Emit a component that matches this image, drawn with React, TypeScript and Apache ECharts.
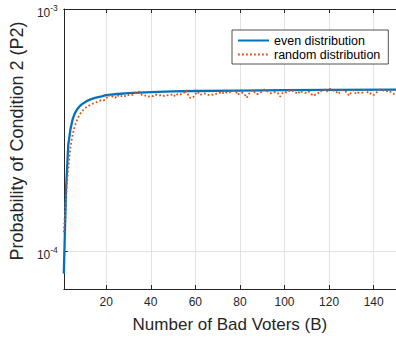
import React, { useEffect, useRef } from "react";
import * as echarts from "echarts";

const FONT = "'Liberation Sans', Arial, Helvetica, sans-serif";
const DARK = "#262626";

const xTicks = [20, 40, 60, 80, 100, 120, 140];
const minorGridY = [8e-5, 9e-5, 2e-4, 3e-4, 4e-4, 5e-4, 6e-4, 7e-4, 8e-4, 9e-4];

// even distribution (x, P2)
const evenX = [1, 2, 3, 4, 5, 6, 7, 8, 9, 10, 11, 12, 13, 14, 15, 16, 18, 20, 25, 30, 40, 50, 60, 80, 100, 120, 150];
const evenY = [
  8.1e-5, 1.8e-4, 2.75e-4, 3.2e-4, 3.52e-4, 3.72e-4, 3.86e-4, 3.96e-4, 4.04e-4, 4.1e-4,
  4.15e-4, 4.2e-4, 4.24e-4, 4.27e-4, 4.3e-4, 4.32e-4, 4.36e-4, 4.41e-4, 4.46e-4, 4.5e-4,
  4.54e-4, 4.57e-4, 4.59e-4, 4.61e-4, 4.63e-4, 4.64e-4, 4.65e-4,
];

// random distribution, x = 1 .. 150
const randomX = Array.from({ length: 150 }, (_, i) => i + 1);
const randomY = [
  1.2e-4, 1.7e-4, 2.2e-4, 2.7e-4, 3.05e-4, 3.3e-4, 3.5e-4, 3.65e-4, 3.77e-4, 3.86e-4,
  3.93e-4, 3.98e-4, 4.03e-4, 4.07e-4, 4.1e-4, 4.14e-4, 4.18e-4, 4.22e-4, 4.2e-4, 4.26e-4,
  4.42e-4, 4.33e-4, 4.36e-4, 4.3e-4, 4.42e-4, 4.33e-4, 4.38e-4, 4.4e-4, 4.35e-4, 4.42e-4,
  4.44e-4, 4.42e-4, 4.52e-4, 4.56e-4, 4.55e-4, 4.42e-4, 4.38e-4, 4.4e-4, 4.35e-4, 4.39e-4,
  4.37e-4, 4.44e-4, 4.42e-4, 4.4e-4, 4.42e-4, 4.38e-4, 4.42e-4, 4.4e-4, 4.42e-4, 4.46e-4,
  4.35e-4, 4.46e-4, 4.44e-4, 4.46e-4, 4.52e-4, 4.63e-4, 4.35e-4, 4.28e-4, 4.32e-4, 4.46e-4,
  4.56e-4, 4.42e-4, 4.45e-4, 4.49e-4, 4.44e-4, 4.42e-4, 4.45e-4, 4.42e-4, 4.46e-4, 4.48e-4,
  4.52e-4, 4.46e-4, 4.56e-4, 4.52e-4, 4.5e-4, 4.58e-4, 4.6e-4, 4.6e-4, 4.42e-4, 4.5e-4,
  4.52e-4, 4.46e-4, 4.3e-4, 4.46e-4, 4.58e-4, 4.63e-4, 4.46e-4, 4.46e-4, 4.52e-4, 4.56e-4,
  4.66e-4, 4.6e-4, 4.52e-4, 4.49e-4, 4.52e-4, 4.55e-4, 4.5e-4, 4.35e-4, 4.49e-4, 4.56e-4,
  4.52e-4, 4.6e-4, 4.56e-4, 4.6e-4, 4.52e-4, 4.46e-4, 4.6e-4, 4.54e-4, 4.52e-4, 4.49e-4,
  4.56e-4, 4.46e-4, 4.38e-4, 4.45e-4, 4.49e-4, 4.6e-4, 4.58e-4, 4.66e-4, 4.56e-4, 4.7e-4,
  4.66e-4, 4.6e-4, 4.6e-4, 4.46e-4, 4.55e-4, 4.63e-4, 4.6e-4, 4.52e-4, 4.39e-4, 4.55e-4,
  4.63e-4, 4.46e-4, 4.52e-4, 4.5e-4, 4.52e-4, 4.66e-4, 4.56e-4, 4.46e-4, 4.5e-4, 4.42e-4,
  4.49e-4, 4.6e-4, 4.66e-4, 4.64e-4, 4.56e-4, 4.58e-4, 4.6e-4, 4.52e-4, 4.46e-4, 4.5e-4,
];

const seriesNames = ["even distribution", "random distribution"];

export default function App() {
  const ref = useRef<HTMLDivElement>(null);
  useEffect(() => {
    const chart = echarts.init(ref.current!, null, { renderer: "svg" });
    const axisLineStyle = { color: DARK, width: 1 };
    chart.setOption({
      animation: false,
      backgroundColor: "#fff",
      textStyle: { fontFamily: FONT },
      grid: { left: 58, top: 9, right: -1, bottom: 50, containLabel: false },
      legend: {
        orient: "vertical",
        left: 232,
        top: 30,
        itemWidth: 31,
        itemHeight: 14,
        itemGap: 1,
        padding: [4, 8, 3, 5],
        borderColor: DARK,
        borderWidth: 0.8,
        borderRadius: 0,
        backgroundColor: "#fff",
        itemStyle: { opacity: 0 },
        textStyle: { fontSize: 12.5, color: "#000", fontFamily: FONT },
        data: seriesNames,
      },
      xAxis: [
        {
          type: "value",
          min: 1,
          max: 150,
          position: "bottom",
          name: "Number of Bad Voters (B)",
          nameLocation: "middle",
          nameGap: 27,
          nameTextStyle: { fontSize: 17, color: DARK, fontFamily: FONT },
          axisLine: { show: true, onZero: false, lineStyle: axisLineStyle },
          axisTick: { show: true, inside: true, length: 4, customValues: xTicks, lineStyle: axisLineStyle },
          axisLabel: { customValues: xTicks, margin: 7, fontSize: 12, color: DARK, fontFamily: FONT },
          splitLine: { show: true, lineStyle: { color: "#e2e2e2", width: 1 } },
        },
        {
          type: "value",
          min: 1,
          max: 150,
          position: "top",
          axisLine: { show: true, onZero: false, lineStyle: axisLineStyle },
          axisTick: { show: true, inside: true, length: 4, customValues: xTicks, lineStyle: axisLineStyle },
          axisLabel: { show: false },
          splitLine: { show: false },
        },
      ],
      yAxis: {
        type: "log",
        logBase: 10,
        min: 7e-5,
        max: 1e-3,
        name: "Probability of Condition 2 (P2)",
        nameLocation: "middle",
        nameGap: 32,
        nameTextStyle: { fontSize: 18, color: DARK, fontFamily: FONT, padding: [0, 0, 0, 16] },
        axisLine: { show: true, onZero: false, lineStyle: axisLineStyle },
        axisTick: { show: true, inside: true, length: 4, lineStyle: axisLineStyle },
        axisLabel: {
          margin: 6,
          showMinLabel: false,
          padding: [4, 0, 0, 0],
          formatter: (v: number) => {
            const e = Math.log10(v);
            const r = Math.round(e);
            if (Math.abs(e - r) > 1e-6) return "";
            return "{b|10}{s|" + r + "}";
          },
          rich: {
            b: { fontSize: 12, lineHeight: 12, padding: [4, 0, 0, 0], color: DARK, fontFamily: FONT },
            s: { fontSize: 8.5, lineHeight: 10, padding: [0, 0, 6, 0], color: DARK, fontFamily: FONT },
          },
        },
        splitLine: { show: true, lineStyle: { color: "#e2e2e2", width: 1 } },
      },
      series: [
        {
          name: "minor-grid",
          type: "line",
          data: [],
          z: 1,
          silent: true,
          markLine: {
            silent: true,
            symbol: "none",
            label: { show: false },
            lineStyle: { color: "#bdbdbd", type: [1, 3], width: 1 },
            data: minorGridY.map((v) => ({ yAxis: v })),
          },
        },
        {
          name: seriesNames[0],
          type: "line",
          z: 2,
          symbol: "none",
          data: evenX.map((x, i) => [x, evenY[i]]),
          lineStyle: { color: "#0072BD", width: 2.3 },
          itemStyle: { color: "#0072BD" },
        },
        {
          name: seriesNames[1],
          type: "line",
          z: 3,
          symbol: "none",
          data: randomX.map((x, i) => [x, randomY[i]]),
          lineStyle: { color: "#D95319", width: 1.8, type: [1.8, 2.2] },
          itemStyle: { color: "#D95319" },
        },
      ],
    });
    return () => chart.dispose();
  }, []);
  return (
    <div
      ref={ref}
      style={{ position: "fixed", left: 0, top: 0, width: 396, height: 339, background: "#fff" }}
    />
  );
}
